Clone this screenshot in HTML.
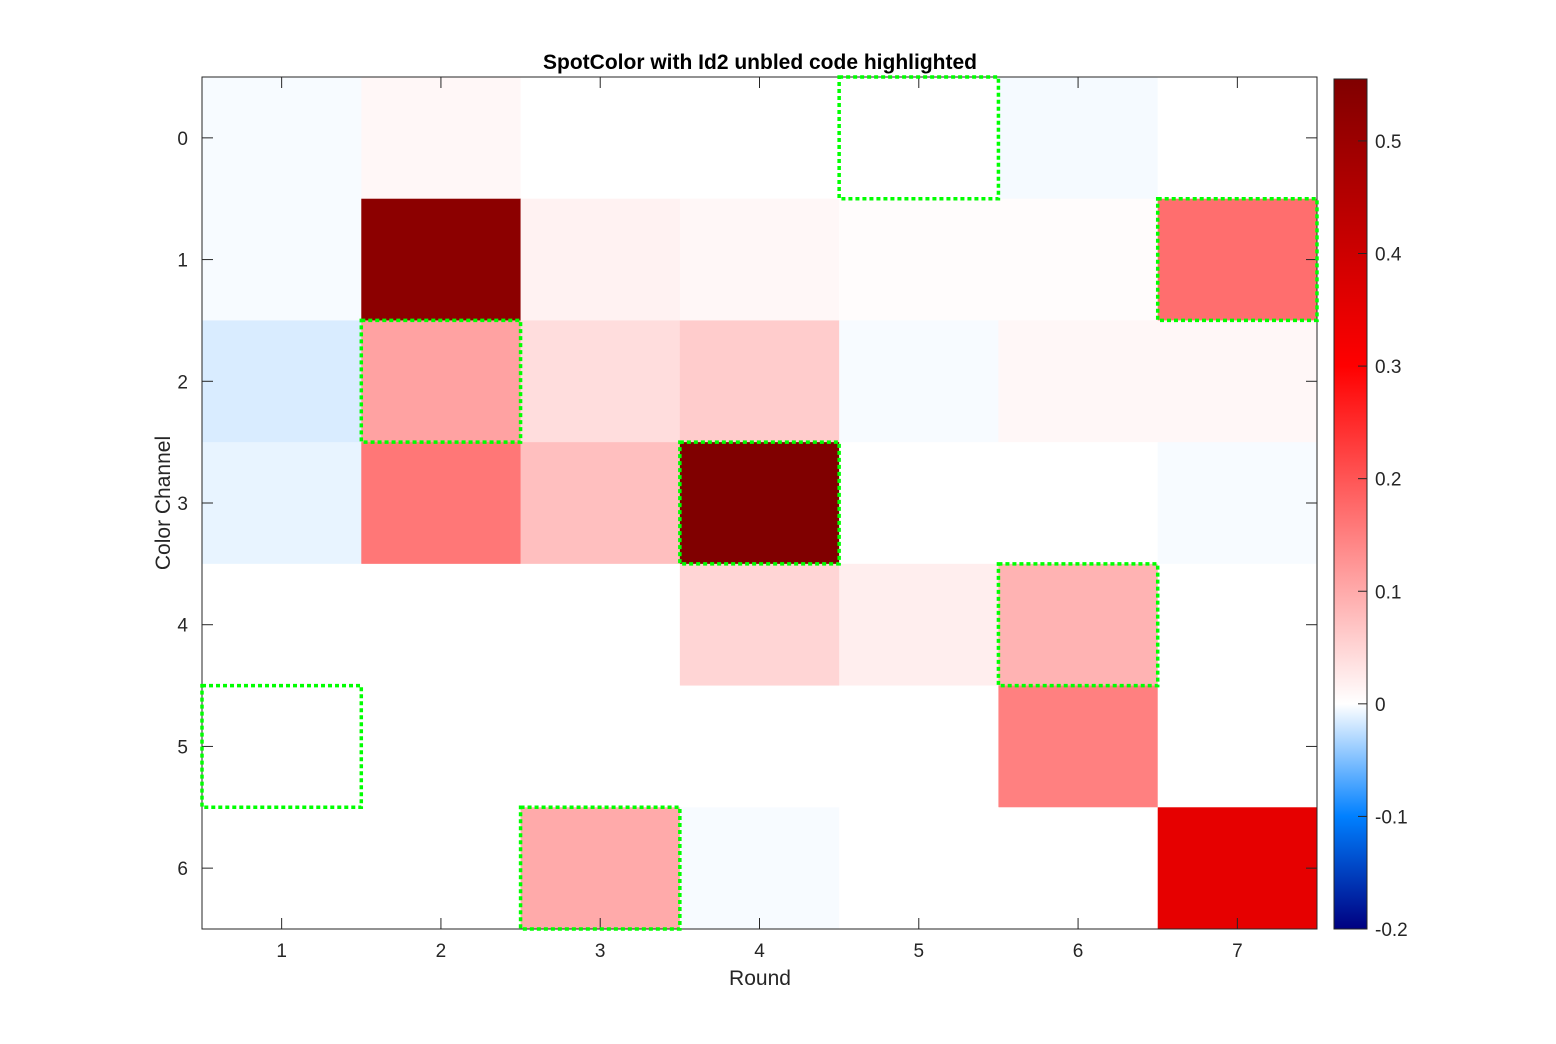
<!DOCTYPE html>
<html><head><meta charset="utf-8"><style>
body{margin:0;background:#fff;}
svg{display:block;font-family:"Liberation Sans",sans-serif;}
</style></head><body>
<svg id="chart" width="1556" height="1044">
<defs>
<linearGradient id="cbg" x1="0" y1="1" x2="0" y2="0">
</linearGradient>
</defs>
</svg>
<script>
const rounds=[1,2,3,4,5,6,7];
const channels=[0,1,2,3,4,5,6];
const values=[
[-0.003,0.01,0,0,0,-0.004,0],
[-0.003,0.53,0.015,0.01,0.003,0.003,0.17],
[-0.015,0.11,0.04,0.06,-0.003,0.01,0.01],
[-0.009,0.16,0.075,0.555,0,0,-0.003],
[0,0,0,0.05,0.02,0.09,0],
[0,0,0,0,0,0.15,0],
[0,0,0.1,-0.003,0,0,0.35]
];
const highlighted=[[5,0],[7,1],[2,2],[4,3],[6,4],[1,5],[3,6]];
const cbTicks=[0.5,0.4,0.3,0.2,0.1,0,-0.1,-0.2];
const cmin=-0.2,cmax=0.555;
const NS="http://www.w3.org/2000/svg";
const svg=document.getElementById('chart');
const L=202,R=1317,T=77,B=929;
const cw=(R-L)/rounds.length, ch=(B-T)/channels.length;
const xC=r=>L+(r-0.5)*cw, yC=c=>T+(c+0.5)*ch;
const stops=[[-0.2,[0,0,128]],[-0.1,[0,128,255]],[0,[255,255,255]],[0.3,[255,0,0]],[0.555,[128,0,0]]];
function color(v){
 v=Math.max(cmin,Math.min(cmax,v));
 for(let i=0;i<stops.length-1;i++){const[a,ca]=stops[i],[b,cb]=stops[i+1];
  if(v<=b){const t=(v-a)/(b-a);return 'rgb('+ca.map((c,k)=>Math.round(c+(cb[k]-c)*t)).join(',')+')';}}
 return 'rgb(128,0,0)';
}
function el(tag,attrs,parent){const e=document.createElementNS(NS,tag);for(const k in attrs)e.setAttribute(k,attrs[k]);(parent||svg).appendChild(e);return e;}
channels.forEach((c,ci)=>rounds.forEach((r,ri)=>{
 const e=el('rect',{x:xC(r)-cw/2,y:yC(c)-ch/2,width:cw+0.5,height:ch+0.5,fill:color(values[ci][ri])});
 
 
}));
const fr=el('rect',{x:L,y:T,width:R-L,height:B-T,fill:'none',stroke:'#262626','stroke-width':1});


rounds.forEach(r=>{
 el('line',{x1:xC(r),x2:xC(r),y1:B,y2:B-11,stroke:'#262626'});
 el('line',{x1:xC(r),x2:xC(r),y1:T,y2:T+11,stroke:'#262626'});
 const t=el('text',{x:xC(r),y:B+28,'text-anchor':'middle','font-size':19,fill:'#262626'});t.textContent=r;
 
 
});
channels.forEach(c=>{
 el('line',{x1:L,x2:L+11,y1:yC(c),y2:yC(c),stroke:'#262626'});
 el('line',{x1:R,x2:R-11,y1:yC(c),y2:yC(c),stroke:'#262626'});
 const t=el('text',{x:L-14,y:yC(c)+7,'text-anchor':'end','font-size':19,fill:'#262626'});t.textContent=c;
 
 
});
highlighted.forEach(([r,c])=>{
 const e=el('rect',{x:xC(r)-cw/2,y:yC(c)-ch/2,width:cw,height:ch,fill:'none',stroke:'#00ff00','stroke-width':3.5,'stroke-dasharray':'4 3'});
 
 
});
let t=el('text',{x:760,y:69,'text-anchor':'middle','font-size':21,'font-weight':'bold',fill:'#000'});t.textContent='SpotColor with Id2 unbled code highlighted';


t=el('text',{x:760,y:985,'text-anchor':'middle','font-size':21,fill:'#262626'});t.textContent='Round';


t=el('text',{x:170,y:503,'text-anchor':'middle','font-size':21,fill:'#262626',transform:'rotate(-90 170 503)'});t.textContent='Color Channel';


const CL=1334,CR=1367,CT=79,CB=929;
const g=document.querySelector('#cbg');
stops.forEach(([v,c])=>el('stop',{offset:(v-cmin)/(cmax-cmin),'stop-color':'rgb('+c.join(',')+')'},g));
const cb=el('rect',{x:CL,y:CT,width:CR-CL,height:CB-CT,fill:'url(#cbg)',stroke:'#262626','stroke-width':1});


const cy=v=>CB-(v-cmin)/(cmax-cmin)*(CB-CT);
cbTicks.forEach(v=>{
 el('line',{x1:CR-9,x2:CR,y1:cy(v),y2:cy(v),stroke:'#262626'});
 const t=el('text',{x:CR+8,y:cy(v)+7,'font-size':19,fill:'#262626'});t.textContent=String(v);
 
 
});
</script>
</body></html>
